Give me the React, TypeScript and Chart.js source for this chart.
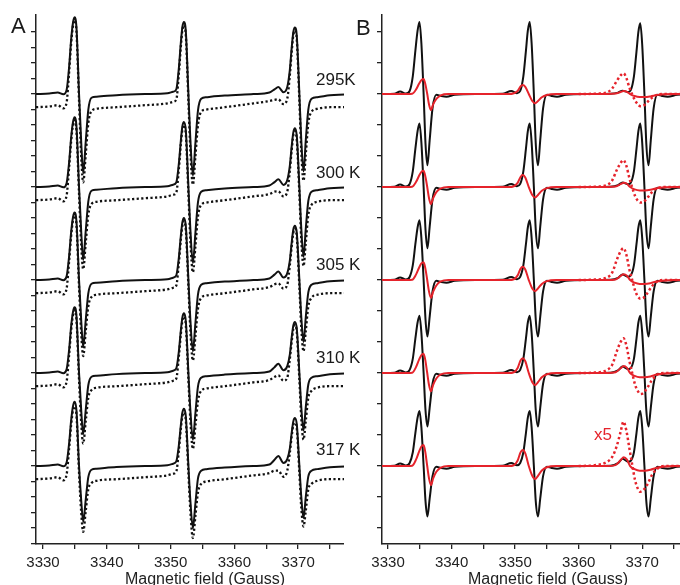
import React, { useEffect, useRef } from "react";
import { Chart, registerables } from "chart.js";

Chart.register(...registerables);

// ---------- labels / ticks ----------
const TEMPERATURES = ["295K", "300 K", "305 K", "310 K", "317 K"];
const OFFSETS = [29, 23, 17, 11, 5]; // stacking baseline of each temperature (y units)
const X_TICKS = [3330, 3335, 3340, 3345, 3350, 3355, 3360, 3365, 3370, 3375, 3380];
const X_TICK_LABELS = [3330, 3340, 3350, 3360, 3370];
const Y_TICKS_A = [0, 1, 2, 3, 4, 5, 6, 7, 8, 9, 10, 11, 12, 13, 14, 15, 16, 17, 18, 19, 20, 21, 22, 23, 24, 25, 26, 27, 28, 29, 30, 31, 32, 33];
const Y_TICKS_B = [1, 3, 5, 7, 9, 11, 13, 15, 17, 19, 21, 23, 25, 27, 29, 31, 33];
const X_AXIS_TITLE = "Magnetic field (Gauss)";

// ---------- Panel A: experimental spectra (solid) and dotted spectra ----------
const FIELD_A = [
  3328.9, 3331.0, 3332.3, 3333.2, 3333.7, 3334.1, 3334.4, 3334.7, 3334.95, 3335.25, 3335.65, 3336.0, 3336.3, 3336.7, 3337.1, 3337.6, 3338.4, 3341.5, 3346.0, 3349.5,
  3350.4, 3350.9, 3351.3, 3351.6, 3351.85, 3352.1, 3352.4, 3352.8, 3353.1, 3353.5, 3353.9, 3354.3, 3354.8, 3355.6,
  3358.5, 3363.0, 3365.5, 3366.3, 3366.9, 3367.7, 3368.3, 3368.7, 3369.0, 3369.25, 3369.5, 3369.8, 3370.2, 3370.5, 3370.85, 3371.2, 3371.6, 3372.1, 3373.0, 3375.0, 3380.0,
];

const A_SOLID_295 = [
  0, 0.03, 0.1, -0.02, 0.26, 1.78, 3.47, 4.6, 4.95, 4.26, 0, -3.21, -5.1, -3.06, -1.02, -0.24, -0.17, -0.07, 0, 0.05,
  0.15, 0.3, 1.67, 3.26, 4.32, 4.65, 4.0, 0, -2.9, -5.25, -3.15, -1.05, -0.3, -0.2,
  -0.1, 0, 0.1, 0.3, 0.45, 0.12, 0.45, 1.55, 3.01, 4.0, 4.3, 3.7, 0, -3.0, -5.0, -3.0, -1.0, -0.3, -0.2, -0.08, 0,
];
const A_SOLID_300 = [
  0, 0.03, 0.1, -0.02, 0.25, 1.62, 3.15, 4.19, 4.5, 3.87, 0, -2.96, -4.7, -2.82, -0.94, -0.24, -0.17, -0.07, 0, 0.05,
  0.15, 0.3, 1.51, 2.94, 3.91, 4.2, 3.61, 0, -2.7, -4.9, -2.94, -0.98, -0.3, -0.2,
  -0.1, 0, 0.1, 0.32, 0.5, 0.14, 0.45, 1.37, 2.66, 3.53, 3.8, 3.27, 0, -2.7, -4.5, -2.7, -0.9, -0.3, -0.2, -0.08, 0,
];
const A_SOLID_305 = [
  0, 0.03, 0.1, -0.02, 0.24, 1.57, 3.05, 4.05, 4.35, 3.74, 0, -2.71, -4.3, -2.58, -0.86, -0.24, -0.17, -0.07, 0, 0.05,
  0.15, 0.3, 1.44, 2.8, 3.72, 4.0, 3.44, 0, -2.53, -4.6, -2.76, -0.92, -0.3, -0.2,
  -0.1, 0, 0.1, 0.35, 0.55, 0.16, 0.45, 1.26, 2.45, 3.26, 3.5, 3.01, 0, -2.4, -4.0, -2.4, -0.8, -0.3, -0.2, -0.08, 0,
];
const A_SOLID_310 = [
  0, 0.03, 0.1, -0.02, 0.24, 1.53, 2.98, 3.95, 4.25, 3.66, 0, -2.49, -3.95, -2.37, -0.79, -0.24, -0.17, -0.07, 0, 0.05,
  0.15, 0.3, 1.39, 2.7, 3.58, 3.85, 3.31, 0, -2.37, -4.3, -2.58, -0.86, -0.3, -0.2,
  -0.1, 0, 0.1, 0.38, 0.6, 0.18, 0.45, 1.19, 2.31, 3.07, 3.3, 2.84, 0, -2.22, -3.7, -2.22, -0.74, -0.3, -0.2, -0.08, 0,
];
const A_SOLID_317 = [
  0, 0.03, 0.1, -0.02, 0.23, 1.49, 2.9, 3.86, 4.15, 3.57, 0, -2.27, -3.6, -2.16, -0.72, -0.24, -0.17, -0.07, 0, 0.05,
  0.15, 0.3, 1.33, 2.59, 3.44, 3.7, 3.18, 0, -2.2, -4.0, -2.4, -0.8, -0.3, -0.2,
  -0.1, 0, 0.1, 0.4, 0.65, 0.2, 0.45, 1.12, 2.17, 2.88, 3.1, 2.67, 0, -2.01, -3.35, -2.01, -0.67, -0.3, -0.2, -0.08, 0,
];

const A_DOTTED_295 = [
  -0.85, -0.8, -0.72, -0.92, -0.55, 1.45, 3.2, 4.4, 4.75, 4.0, -0.45, -4.1, -5.7, -3.9, -1.9, -1.1, -0.95, -0.85, -0.72, -0.6,
  -0.5, -0.35, 1.3, 3.0, 4.1, 4.45, 3.75, -0.45, -3.6, -5.85, -4.0, -2.0, -1.15, -1.0,
  -0.85, -0.6, -0.45, -0.38, -0.34, -0.65, -0.3, 1.2, 2.75, 3.8, 4.1, 3.45, -0.45, -3.7, -5.6, -3.9, -1.9, -1.15, -0.95, -0.85, -0.85,
];
const A_DOTTED_300 = [
  -0.85, -0.8, -0.72, -0.92, -0.55, 1.3, 2.9, 4.0, 4.3, 3.6, -0.45, -3.8, -5.3, -3.6, -1.8, -1.1, -0.95, -0.85, -0.72, -0.6,
  -0.5, -0.35, 1.15, 2.7, 3.7, 4.0, 3.35, -0.45, -3.4, -5.5, -3.8, -1.9, -1.15, -1.0,
  -0.85, -0.6, -0.45, -0.3, -0.28, -0.6, -0.3, 1.05, 2.4, 3.35, 3.6, 3.0, -0.45, -3.4, -5.1, -3.6, -1.8, -1.15, -0.95, -0.85, -0.85,
];
const A_DOTTED_305 = [
  -0.85, -0.8, -0.72, -0.92, -0.55, 1.25, 2.8, 3.85, 4.15, 3.5, -0.45, -3.5, -4.9, -3.3, -1.7, -1.1, -0.95, -0.85, -0.72, -0.6,
  -0.5, -0.35, 1.1, 2.55, 3.5, 3.8, 3.2, -0.45, -3.2, -5.2, -3.6, -1.85, -1.15, -1.0,
  -0.85, -0.6, -0.45, -0.28, -0.22, -0.55, -0.3, 0.95, 2.2, 3.05, 3.3, 2.75, -0.45, -3.1, -4.6, -3.3, -1.7, -1.15, -0.95, -0.85, -0.85,
];
const A_DOTTED_310 = [
  -0.85, -0.8, -0.72, -0.92, -0.55, 1.2, 2.7, 3.75, 4.05, 3.4, -0.45, -3.3, -4.55, -3.1, -1.6, -1.1, -0.95, -0.85, -0.72, -0.6,
  -0.5, -0.35, 1.05, 2.45, 3.35, 3.65, 3.05, -0.45, -3.0, -4.9, -3.4, -1.8, -1.15, -1.0,
  -0.85, -0.6, -0.45, -0.25, -0.15, -0.5, -0.3, 0.9, 2.05, 2.85, 3.1, 2.6, -0.45, -2.9, -4.3, -3.1, -1.6, -1.15, -0.95, -0.85, -0.85,
];
const A_DOTTED_317 = [
  -0.85, -0.8, -0.72, -0.92, -0.55, 1.15, 2.6, 3.6, 3.85, 3.25, -0.45, -3.05, -4.25, -2.9, -1.5, -1.1, -0.95, -0.85, -0.72, -0.6,
  -0.5, -0.35, 1.0, 2.35, 3.2, 3.45, 2.9, -0.45, -2.85, -4.65, -3.2, -1.7, -1.15, -1.0,
  -0.85, -0.6, -0.45, -0.3, -0.3, -0.69, -0.3, 0.85, 1.95, 2.65, 2.8, 2.4, -0.45, -2.7, -3.9, -2.9, -1.5, -1.15, -0.95, -0.85, -0.85,
];

// ---------- Panel B: black simulated spectra ----------
const FIELD_B_BLACK = [
  3329.05, 3331.0, 3331.9, 3332.8, 3333.4, 3333.9, 3334.3, 3334.65, 3334.95, 3335.25, 3335.6, 3335.9, 3336.2, 3336.55, 3337.0, 3337.6, 3338.3, 3339.2, 3340.5, 3344.0,
  3348.0, 3349.4, 3350.3, 3350.8, 3351.3, 3351.7, 3352.0, 3352.3, 3352.6, 3352.95, 3353.25, 3353.6, 3353.95, 3354.4, 3355.0, 3355.7, 3356.6, 3358.0, 3361.5,
  3365.0, 3366.2, 3366.9, 3367.8, 3368.2, 3368.7, 3369.1, 3369.4, 3369.7, 3370.0, 3370.35, 3370.65, 3371.0, 3371.35, 3371.8, 3372.4, 3373.1, 3374.0, 3375.5, 3378.0, 3381.5,
];
const B_BLACK_295 = [
  0, 0.02, 0.17, 0.03, 0.2, 1.16, 2.79, 4.09, 4.65, 3.26, 0, -3.22, -4.6, -2.99, -0.92, -0.05, -0.12, -0.17, -0.05, 0,
  0.02, 0.2, 0.05, 0.2, 1.16, 2.79, 4.09, 4.65, 3.26, 0, -3.22, -4.6, -2.99, -0.92, -0.05, -0.12, -0.17, -0.05, 0,
  0.02, 0.09, 0.22, 0.13, 0.25, 1.14, 2.74, 4.01, 4.56, 3.19, 0, -3.22, -4.6, -2.99, -0.92, -0.05, -0.12, -0.17, -0.05, 0, 0,
];
const B_BLACK_300 = [
  0, 0.02, 0.17, 0.03, 0.2, 1.03, 2.46, 3.61, 4.1, 2.87, 0, -2.77, -3.95, -2.57, -0.79, -0.05, -0.12, -0.17, -0.05, 0,
  0.02, 0.2, 0.05, 0.2, 1.03, 2.46, 3.61, 4.1, 2.87, 0, -2.77, -3.95, -2.57, -0.79, -0.05, -0.12, -0.17, -0.05, 0,
  0.02, 0.12, 0.3, 0.18, 0.28, 1.03, 2.46, 3.61, 4.1, 2.87, 0, -2.77, -3.95, -2.57, -0.79, -0.05, -0.12, -0.17, -0.05, 0, 0,
];
const B_BLACK_305 = [
  0, 0.02, 0.17, 0.03, 0.2, 0.96, 2.31, 3.39, 3.85, 2.7, 0, -2.56, -3.65, -2.37, -0.73, -0.05, -0.12, -0.17, -0.05, 0,
  0.02, 0.2, 0.05, 0.2, 0.96, 2.31, 3.39, 3.85, 2.7, 0, -2.56, -3.65, -2.37, -0.73, -0.05, -0.12, -0.17, -0.05, 0,
  0.02, 0.14, 0.36, 0.22, 0.3, 0.96, 2.31, 3.39, 3.85, 2.7, 0, -2.56, -3.65, -2.37, -0.73, -0.05, -0.12, -0.17, -0.05, 0, 0,
];
const B_BLACK_310 = [
  0, 0.02, 0.17, 0.03, 0.2, 0.93, 2.22, 3.26, 3.7, 2.59, 0, -2.42, -3.45, -2.24, -0.69, -0.05, -0.12, -0.17, -0.05, 0,
  0.02, 0.2, 0.05, 0.2, 0.93, 2.22, 3.26, 3.7, 2.59, 0, -2.42, -3.45, -2.24, -0.69, -0.05, -0.12, -0.17, -0.05, 0,
  0.02, 0.17, 0.42, 0.25, 0.32, 0.93, 2.22, 3.26, 3.7, 2.59, 0, -2.42, -3.45, -2.24, -0.69, -0.05, -0.12, -0.17, -0.05, 0, 0,
];
const B_BLACK_317 = [
  0, 0.02, 0.17, 0.03, 0.2, 0.89, 2.13, 3.12, 3.55, 2.49, 0, -2.28, -3.25, -2.11, -0.65, -0.05, -0.12, -0.17, -0.05, 0,
  0.02, 0.2, 0.05, 0.2, 0.89, 2.13, 3.12, 3.55, 2.49, 0, -2.28, -3.25, -2.11, -0.65, -0.05, -0.12, -0.17, -0.05, 0,
  0.02, 0.19, 0.47, 0.28, 0.34, 0.89, 2.13, 3.12, 3.55, 2.49, 0, -2.28, -3.25, -2.11, -0.65, -0.05, -0.12, -0.17, -0.05, 0, 0,
];

// ---------- Panel B: red component (solid) ----------
const FIELD_B_RED = [
  3329.05, 3333.0, 3333.8, 3334.4, 3334.9, 3335.25, 3335.6, 3335.9, 3336.15, 3336.45, 3336.75, 3337.1, 3337.6, 3338.3, 3339.5, 3347.0,
  3349.0, 3349.8, 3350.4, 3350.85, 3351.2, 3351.6, 3352.15, 3352.7, 3353.15, 3353.6, 3354.2, 3355.0, 3356.5, 3362.0,
  3364.5, 3365.8, 3366.6, 3367.1, 3367.6, 3368.1, 3368.8, 3369.6, 3370.4, 3371.3, 3372.3, 3373.5, 3375.0, 3381.5,
];
const B_RED_295 = [
  0, 0, 0.02, 0.29, 0.68, 0.9, 0.97, 0.58, 0.05, -0.67, -1.03, -0.67, -0.31, -0.08, 0, 0,
  0, 0.05, 0.2, 0.49, 0.58, 0.46, 0, -0.45, -0.6, -0.45, -0.21, -0.06, 0, 0,
  0, 0.03, 0.13, 0.19, 0.14, 0, -0.13, -0.19, -0.19, -0.15, -0.07, -0.02, 0, 0,
];
const B_RED_300 = [
  0, 0, 0.02, 0.32, 0.74, 0.98, 1.05, 0.63, 0.05, -0.72, -1.1, -0.72, -0.33, -0.09, 0, 0,
  0, 0.05, 0.27, 0.65, 0.77, 0.62, 0, -0.51, -0.68, -0.51, -0.24, -0.07, 0, 0,
  0, 0.03, 0.19, 0.28, 0.21, 0, -0.15, -0.22, -0.22, -0.18, -0.08, -0.02, 0, 0,
];
const B_RED_305 = [
  0, 0, 0.02, 0.35, 0.81, 1.07, 1.15, 0.69, 0.05, -0.75, -1.15, -0.75, -0.35, -0.09, 0, 0,
  0, 0.05, 0.3, 0.72, 0.85, 0.68, 0, -0.54, -0.72, -0.54, -0.25, -0.07, 0, 0,
  0, 0.04, 0.26, 0.38, 0.28, 0, -0.17, -0.25, -0.25, -0.2, -0.09, -0.03, 0, 0,
];
const B_RED_310 = [
  0, 0, 0.02, 0.38, 0.88, 1.16, 1.25, 0.75, 0.05, -0.77, -1.18, -0.77, -0.35, -0.09, 0, 0,
  0, 0.05, 0.33, 0.81, 0.95, 0.76, 0, -0.59, -0.78, -0.59, -0.27, -0.08, 0, 0,
  0, 0.05, 0.31, 0.45, 0.33, 0, -0.18, -0.27, -0.27, -0.22, -0.1, -0.03, 0, 0,
];
const B_RED_317 = [
  0, 0, 0.02, 0.41, 0.95, 1.26, 1.35, 0.81, 0.05, -0.8, -1.23, -0.8, -0.37, -0.1, 0, 0,
  0, 0.05, 0.36, 0.88, 1.03, 0.82, 0, -0.63, -0.84, -0.63, -0.29, -0.08, 0, 0,
  0, 0.06, 0.38, 0.56, 0.41, 0, -0.2, -0.3, -0.3, -0.24, -0.11, -0.03, 0, 0,
];

// ---------- Panel B: red component x5 (dotted, third line) ----------
const FIELD_B_X5 = [3360.0, 3362.5, 3364.4, 3365.3, 3366.0, 3366.6, 3367.05, 3367.5, 3368.0, 3368.4, 3368.9, 3369.3, 3369.7, 3370.2, 3370.8, 3371.5, 3372.3, 3373.5, 3376.0, 3381.5];
const B_X5_295 = [0, 0.02, 0.1, 0.37, 0.85, 1.2, 1.34, 1.05, 0.4, 0, -0.43, -0.65, -0.78, -0.75, -0.52, -0.25, -0.05, 0, 0, 0];
const B_X5_300 = [0, 0.02, 0.12, 0.45, 1.1, 1.55, 1.74, 1.38, 0.55, 0, -0.6, -0.88, -1.0, -0.97, -0.7, -0.35, -0.07, 0, 0, 0];
const B_X5_305 = [0, 0.03, 0.15, 0.5, 1.3, 1.85, 2.06, 1.65, 0.65, 0.05, -0.7, -1.05, -1.2, -1.15, -0.85, -0.42, -0.1, 0, 0, 0];
const B_X5_310 = [0, 0.03, 0.18, 0.55, 1.4, 2.0, 2.25, 1.8, 0.75, 0.05, -0.78, -1.15, -1.35, -1.28, -0.95, -0.48, -0.12, 0, 0, 0];
const B_X5_317 = [0, 0.05, 0.25, 0.6, 1.3, 2.2, 2.86, 2.3, 1.1, 0.15, -0.95, -1.45, -1.66, -1.55, -1.2, -0.6, -0.2, 0, 0, 0];

const A_SOLID = [A_SOLID_295, A_SOLID_300, A_SOLID_305, A_SOLID_310, A_SOLID_317];
const A_DOTTED = [A_DOTTED_295, A_DOTTED_300, A_DOTTED_305, A_DOTTED_310, A_DOTTED_317];
const B_BLACK = [B_BLACK_295, B_BLACK_300, B_BLACK_305, B_BLACK_310, B_BLACK_317];
const B_RED = [B_RED_295, B_RED_300, B_RED_305, B_RED_310, B_RED_317];
const B_X5 = [B_X5_295, B_X5_300, B_X5_305, B_X5_310, B_X5_317];

// ---------- styling ----------
const FONT = "'Liberation Sans', Arial, Helvetica, sans-serif";
const INK = "#111111";
const AXIS = "#222222";
const RED = "#e5232b";
const CANVAS_H = 589;
const PLOT_BOTTOM = 544;

function toPoints(field: number[], values: number[], offset: number) {
  return field.map((x, i) => ({ x, y: values[i] + offset }));
}

function buildADatasets() {
  const ds: any[] = [];
  OFFSETS.forEach((off, t) => {
    ds.push({ data: toPoints(FIELD_A, A_SOLID[t], off), borderColor: INK, borderWidth: 2, order: 0 });
    ds.push({ data: toPoints(FIELD_A, A_DOTTED[t], off), borderColor: INK, borderWidth: 2.3, borderDash: [2.2, 2.4], order: 1 });
  });
  return ds;
}

function buildBDatasets() {
  const ds: any[] = [];
  OFFSETS.forEach((off, t) => {
    ds.push({ data: toPoints(FIELD_B_BLACK, B_BLACK[t], off), borderColor: INK, borderWidth: 2, order: 2 });
    ds.push({ data: toPoints(FIELD_B_X5, B_X5[t], off), borderColor: RED, borderWidth: 2.5, borderDash: [2.4, 2.6], order: 1 });
    ds.push({ data: toPoints(FIELD_B_RED, B_RED[t], off), borderColor: RED, borderWidth: 2, order: 0 });
  });
  return ds;
}

type PanelProps = {
  datasets: any[];
  xMin: number;
  xMax: number;
  yTicks: number[];
  yWidth: number;
  padRight: number;
  left: number;
  width: number;
  background?: string;
};

function Panel({ datasets, xMin, xMax, yTicks, yWidth, padRight, left, width, background }: PanelProps) {
  const ref = useRef<HTMLCanvasElement | null>(null);
  useEffect(() => {
    if (!ref.current) return;
    const chart = new Chart(ref.current, {
      type: "line",
      data: { datasets },
      options: {
        animation: false,
        responsive: false,
        maintainAspectRatio: false,
        events: [],
        layout: { padding: { left: 0, right: padRight, top: 15, bottom: 0 } },
        plugins: { legend: { display: false }, tooltip: { enabled: false }, title: { display: false } },
        elements: {
          point: { radius: 0 },
          line: { cubicInterpolationMode: "monotone", fill: false, borderCapStyle: "butt" },
        },
        scales: {
          x: {
            type: "linear",
            min: xMin,
            max: xMax,
            afterBuildTicks: (s: any) => {
              s.ticks = X_TICKS.map((v) => ({ value: v }));
            },
            afterFit: (s: any) => {
              s.height = CANVAS_H - PLOT_BOTTOM;
            },
            ticks: {
              autoSkip: false,
              maxRotation: 0,
              minRotation: 0,
              padding: 5,
              color: AXIS,
              font: { family: FONT, size: 15 },
              callback: (v: any) => (X_TICK_LABELS.includes(Number(v)) ? String(v) : ""),
            },
            grid: { drawOnChartArea: false, drawTicks: true, tickLength: 5, color: AXIS, lineWidth: 1.3 },
            border: { display: true, color: AXIS, width: 1.5 },
            title: {
              display: true,
              text: X_AXIS_TITLE,
              color: AXIS,
              font: { family: FONT, size: 16 },
              padding: { top: 0, bottom: 0 },
            },
          },
          y: {
            type: "linear",
            min: -0.03,
            max: 34.1,
            afterBuildTicks: (s: any) => {
              s.ticks = yTicks.map((v) => ({ value: v }));
            },
            afterFit: (s: any) => {
              s.width = yWidth;
            },
            ticks: { display: false },
            grid: { drawOnChartArea: false, drawTicks: true, tickLength: 5, color: AXIS, lineWidth: 1.3 },
            border: { display: true, color: AXIS, width: 1.5 },
          },
        },
      } as any,
    });
    return () => chart.destroy();
  }, []);
  return (
    <canvas
      ref={ref}
      width={width}
      height={CANVAS_H}
      style={{ position: "absolute", left, top: 0, width, height: CANVAS_H, background: background || "transparent" }}
    />
  );
}

const TEMP_LABEL_TOPS = [70.5, 163.5, 255.5, 348.5, 440.5];

export default function App() {
  const aSets = buildADatasets();
  const bSets = buildBDatasets();
  const textBase: React.CSSProperties = { position: "absolute", fontFamily: FONT, lineHeight: 1, whiteSpace: "nowrap", color: "#1a1a1a" };
  return (
    <div style={{ position: "absolute", left: 0, top: 0, width: 680, height: 585, overflow: "hidden", background: "#fff" }}>
      <Panel datasets={aSets} xMin={3328.9} xMax={3381.9} yTicks={Y_TICKS_A} yWidth={36} padRight={6} left={0} width={380} />
      <Panel datasets={bSets} xMin={3329.05} xMax={3381.3} yTicks={Y_TICKS_B} yWidth={38} padRight={10} left={344} width={380} background="#fff" />
      <div style={{ ...textBase, left: 11, top: 15, fontSize: 22 }}>A</div>
      <div style={{ ...textBase, left: 356, top: 17, fontSize: 22 }}>B</div>
      {TEMPERATURES.map((t, i) => (
        <div key={t} style={{ ...textBase, left: 316, top: TEMP_LABEL_TOPS[i], fontSize: 17 }}>
          {t}
        </div>
      ))}
      <div style={{ ...textBase, left: 594, top: 426, fontSize: 17, color: RED }}>x5</div>
    </div>
  );
}
